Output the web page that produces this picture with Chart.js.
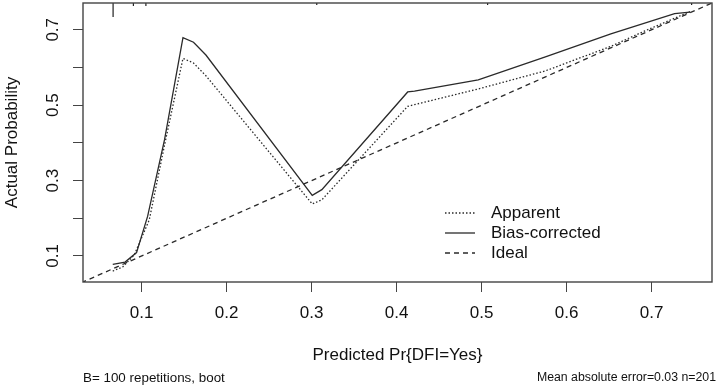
<!DOCTYPE html>
<html>
<head>
<meta charset="utf-8">
<script src="https://cdn.jsdelivr.net/npm/chart.js@4"></script>
<style>
  body { margin: 0; background: #fff; }
</style>
</head>
<body>
<canvas id="chart1" width="720" height="388"></canvas>
<script>
// axis range (R extends the data range by 4%)
const axisMin = 0.031;
const axisMax = 0.771;

// Apparent (dotted)
const apparentX = [0.066, 0.0777, 0.0914, 0.109, 0.127, 0.1486, 0.161, 0.1756, 0.3007, 0.312, 0.413, 0.496, 0.575, 0.652, 0.692, 0.745];
const apparentY = [0.060, 0.071, 0.103, 0.196, 0.395, 0.624, 0.612, 0.578, 0.238, 0.249, 0.497, 0.543, 0.591, 0.656, 0.697, 0.748];

// Bias-corrected (solid)
const biasX = [0.066, 0.0805, 0.094, 0.107, 0.127, 0.1486, 0.161, 0.1756, 0.3007, 0.312, 0.413, 0.421, 0.496, 0.575, 0.652, 0.727, 0.745];
const biasY = [0.078, 0.084, 0.109, 0.205, 0.409, 0.679, 0.667, 0.633, 0.261, 0.276, 0.535, 0.537, 0.567, 0.628, 0.689, 0.743, 0.747];

// Ideal line
const idealX = [0, 1];
const idealY = [0, 1];

// spike histogram of predictions along the top
const rugX = [0.0664, 0.0903, 0.105, 0.306, 0.507, 0.747];
const rugH = [0.037, 0.008, 0.008, 0.005, 0.005, 0.005];

const xTickLabels = ['0.1', '0.2', '0.3', '0.4', '0.5', '0.6', '0.7'];
const yTickLabels = ['0.1', '0.3', '0.5', '0.7'];

const footLeft = 'B= 100 repetitions, boot';
const footRight = 'Mean absolute error=0.03 n=201';

const toPts = (xs, ys) => xs.map((x, i) => ({x: x, y: ys[i]}));

const rugPts = [];
rugX.forEach((x, i) => {
  rugPts.push({x: x, y: axisMax});
  rugPts.push({x: x, y: axisMax - rugH[i]});
  rugPts.push({x: x, y: null});
});

const fontFam = "'Liberation Sans', Arial, sans-serif";
const lineCol = '#2a2a2a';

const data1 = {
  datasets: [
    {
      label: 'Apparent',
      data: toPts(apparentX, apparentY),
      borderColor: lineCol,
      borderWidth: 1.3,
      borderDash: [1.5, 2],
      showLine: true,
      pointRadius: 0
    },
    {
      label: 'Bias-corrected',
      data: toPts(biasX, biasY),
      borderColor: lineCol,
      borderWidth: 1.3,
      showLine: true,
      pointRadius: 0
    },
    {
      label: 'Ideal',
      data: toPts(idealX, idealY),
      borderColor: lineCol,
      borderWidth: 1.3,
      borderDash: [5, 4],
      showLine: true,
      pointRadius: 0
    },
    {
      label: '',
      data: rugPts,
      borderColor: '#222',
      borderWidth: 1.2,
      showLine: true,
      spanGaps: false,
      pointRadius: 0
    }
  ]
};

const extras = {
  id: 'extras',
  afterDraw(chart) {
    const ctx = chart.ctx;
    const a = chart.chartArea;
    const ys = chart.scales.y;
    ctx.save();
    // box
    ctx.strokeStyle = '#444';
    ctx.lineWidth = 1.4;
    ctx.strokeRect(a.left, a.top, a.right - a.left, a.bottom - a.top);

    // rotated y tick labels
    ctx.fillStyle = '#111';
    ctx.font = '17px ' + fontFam;
    ctx.textAlign = 'center';
    ctx.textBaseline = 'middle';
    yTickLabels.forEach(t => {
      const py = ys.getPixelForValue(parseFloat(t));
      ctx.save();
      ctx.translate(53, py);
      ctx.rotate(-Math.PI / 2);
      ctx.fillText(t, 0, 0);
      ctx.restore();
    });

    // legend
    const rows = [213, 233, 253];
    chart.data.datasets.slice(0, 3).forEach((ds, i) => {
      ctx.beginPath();
      ctx.strokeStyle = ds.borderColor;
      ctx.lineWidth = ds.borderWidth;
      ctx.setLineDash(ds.borderDash || []);
      ctx.moveTo(445, rows[i]);
      ctx.lineTo(475, rows[i]);
      ctx.stroke();
      ctx.setLineDash([]);
      ctx.textAlign = 'left';
      ctx.fillText(ds.label, 491, rows[i]);
    });

    // footnotes
    ctx.font = '13.4px ' + fontFam;
    ctx.textAlign = 'left';
    ctx.fillText(footLeft, 83, 378);
    ctx.font = '12.3px ' + fontFam;
    ctx.textAlign = 'right';
    ctx.fillText(footRight, 716, 378);
    ctx.restore();
  }
};

const config1 = {
  type: 'scatter',
  data: data1,
  options: {
    responsive: false,
    animation: false,
    layout: { padding: { left: 2, top: 3, right: 8, bottom: 22 } },
    plugins: {
      legend: { display: false },
      tooltip: { enabled: false }
    },
    scales: {
      x: {
        type: 'linear',
        min: axisMin,
        max: axisMax,
        afterFit: s => { s.height = 84; },
        border: { display: false },
        grid: { drawOnChartArea: false, tickLength: 10, tickColor: '#444', color: '#444' },
        ticks: {
          stepSize: 0.1,
          includeBounds: false,
          padding: 11,
          color: '#111',
          font: { family: fontFam, size: 17 },
          callback: v => xTickLabels.find(t => Math.abs(parseFloat(t) - v) < 1e-6) || ''
        },
        title: {
          display: true,
          text: 'Predicted Pr{DFI=Yes}',
          color: '#111',
          font: { family: fontFam, size: 17 },
          padding: 0
        }
      },
      y: {
        type: 'linear',
        min: axisMin,
        max: axisMax,
        afterFit: s => { s.width = 81; },
        border: { display: false },
        grid: { drawOnChartArea: false, tickLength: 10, tickColor: '#444', color: '#444' },
        ticks: {
          stepSize: 0.1,
          includeBounds: false,
          color: 'rgba(0,0,0,0)',
          font: { family: fontFam, size: 1 },
          padding: 0
        },
        title: {
          display: true,
          text: 'Actual Probability',
          color: '#111',
          font: { family: fontFam, size: 17 },
          padding: 0
        }
      }
    }
  },
  plugins: [extras]
};

const chart1 = new Chart(document.getElementById('chart1'), config1);
</script>
</body>
</html>
